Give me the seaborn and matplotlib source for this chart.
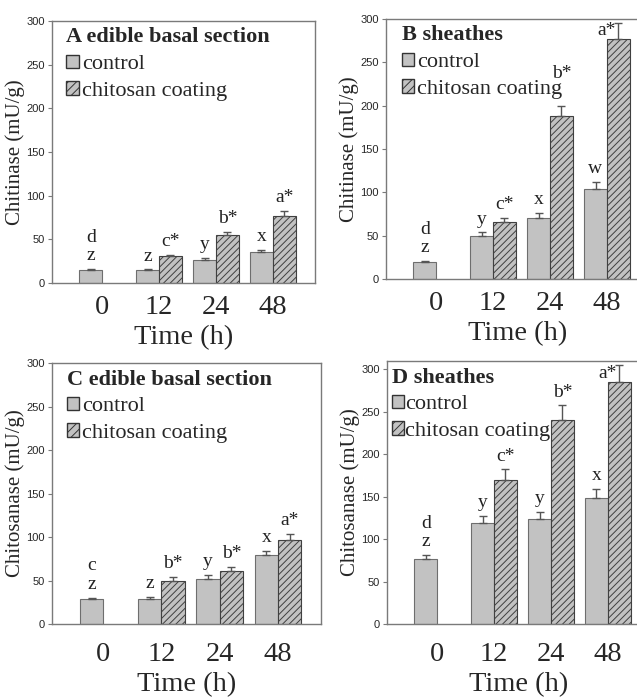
import numpy as np
import pandas as pd
import matplotlib
matplotlib.use('Agg')
import matplotlib.pyplot as plt
import seaborn as sns
from matplotlib.patches import Patch
from matplotlib.container import BarContainer

# --- data ---
times = ['0', '12', '24', '48']
treatments = ['control', 'chitosan coating']

# A: chitinase, edible basal section
a_control = [14.5, 14.5, 26.7, 35.8]
a_control_err = [1.5, 1.0, 1.8, 1.9]
a_chitosan = [30.5, 55.0, 77.0]
a_chitosan_err = [1.5, 3.7, 5.3]
a_control_lab = ['d\nz', 'z', 'y', 'x']
a_chitosan_lab = ['c*', 'b*', 'a*']

# B: chitinase, sheathes
b_control = [19.2, 50.0, 70.7, 104.0]
b_control_err = [1.5, 3.8, 5.3, 7.8]
b_chitosan = [66.0, 187.5, 277.4]
b_chitosan_err = [4.3, 12.3, 18.4]
b_control_lab = ['d\nz', 'y', 'x', 'w']
b_chitosan_lab = ['c*', 'b*', 'a*']

# C: chitosanase, edible basal section
c_control = [28.8, 28.8, 52.2, 79.0]
c_control_err = [1.5, 1.9, 3.8, 5.4]
c_chitosan = [49.9, 61.4, 96.7]
c_chitosan_err = [3.8, 4.6, 6.9]
c_control_lab = ['c\nz', 'z', 'y', 'x']
c_chitosan_lab = ['b*', 'b*', 'a*']

# D: chitosanase, sheathes
d_control = [76.2, 118.6, 124.0, 148.8]
d_control_err = [5.1, 8.6, 8.3, 10.2]
d_chitosan = [169.6, 240.3, 285.0]
d_chitosan_err = [12.6, 17.3, 20.0]
d_control_lab = ['d\nz', 'y', 'y', 'x']
d_chitosan_lab = ['c*', 'b*', 'a*']

sns.set_style('ticks')
plt.rcParams['font.family'] = ['Liberation Serif', 'DejaVu Serif']
plt.rcParams['hatch.linewidth'] = 0.7

bar_grey = '#c2c2c2'
edge_grey = '#6e6e6e'
hatch_dark = '#404040'
spine_grey = '#7a7a7a'
tick_font = ['Liberation Sans Narrow', 'Liberation Sans', 'DejaVu Sans']


def draw_panel(ax, title, ylabel, control, control_err, chitosan, chitosan_err,
               control_lab, chitosan_lab, ymax, leg_x, tick_pad, xlab_pad,
               text_pad=0.15):
    df = pd.DataFrame({
        'time': times + times[1:],
        'treatment': [treatments[0]] * len(control) + [treatments[1]] * len(chitosan),
        'value': control + chitosan,
        'err': control_err + chitosan_err,
        'label': control_lab + chitosan_lab,
    })
    sns.barplot(data=df, x='time', y='value', hue='treatment', order=times,
                hue_order=treatments, palette=[bar_grey, bar_grey], saturation=1,
                errorbar=None, width=0.8, legend=False, ax=ax,
                edgecolor=edge_grey, linewidth=0.8)
    ax.set_ylim(0, ymax)

    notes = []
    bar_groups = [c for c in ax.containers if isinstance(c, BarContainer)]
    for k, container in enumerate(bar_groups):
        sub = df[df['treatment'] == treatments[k]].set_index('time')
        for bar in container:
            h = bar.get_height()
            if not np.isfinite(h) or h == 0:
                continue
            cx = bar.get_x() + bar.get_width() / 2
            t = times[int(round(cx))]
            row = sub.loc[t]
            if k == 1:
                bar.set_hatch('/////')
                bar.set_edgecolor(hatch_dark)
            top = h + row['err']
            ax.errorbar(cx, h, yerr=[[0], [row['err']]], fmt='none',
                        ecolor='#555555', elinewidth=1, capsize=3, capthick=1)
            if top > 0.9 * ymax:
                # no room above: letters sit left of the error bar
                ax.annotate(row['label'], (cx, top), xytext=(-2, -9),
                            textcoords='offset points', ha='right', va='baseline',
                            fontsize=14, color='#222222')
            else:
                notes.append(ax.annotate(row['label'], (cx, top), xytext=(0, 3.5),
                                         textcoords='offset points', ha='center',
                                         va='bottom', fontsize=14, linespacing=1.1,
                                         color='#222222'))

    handles = [Patch(facecolor=bar_grey, edgecolor='#333333', label=treatments[0]),
               Patch(facecolor=bar_grey, edgecolor='#333333', hatch='////',
                     label=treatments[1])]
    leg = ax.legend(handles=handles, title=title, loc='upper left', frameon=False,
                    bbox_to_anchor=(leg_x, 0.975),
                    fontsize=16, title_fontproperties={'weight': 'bold', 'size': 16},
                    alignment='left', handlelength=0.55, handleheight=0.55,
                    handletextpad=text_pad, borderaxespad=0, labelspacing=0.32,
                    borderpad=0)

    ax.set_xlim(-0.88, 3.74)
    ax.set_yticks(np.arange(0, 301, 50))
    ax.tick_params(axis='y', labelsize=8, length=3, color=spine_grey, pad=2)
    for lab in ax.get_yticklabels():
        lab.set_family(tick_font)
    ax.tick_params(axis='x', labelsize=20.5, length=0, pad=tick_pad)
    ax.set_xlabel('Time (h)', fontsize=20.5, labelpad=xlab_pad)
    ax.set_ylabel(ylabel, fontsize=15, labelpad=1)
    for s in ax.spines.values():
        s.set_visible(True)
        s.set_color(spine_grey)
        s.set_linewidth(1)
    return notes, leg


fig = plt.figure(figsize=(6.37, 6.98), dpi=100)
ax_a = fig.add_axes([0.0816, 0.5946, 0.4129, 0.3754])
ax_b = fig.add_axes([0.6060, 0.6003, 0.4129, 0.3725])
ax_c = fig.add_axes([0.0816, 0.1060, 0.4223, 0.3739])
ax_d = fig.add_axes([0.6075, 0.1060, 0.4129, 0.3768])

panels = [
    draw_panel(ax_a, 'A edible basal section', 'Chitinase (mU/g)', a_control, a_control_err,
               a_chitosan, a_chitosan_err, a_control_lab, a_chitosan_lab, 300,
               0.055, 8.5, 3.5),
    draw_panel(ax_b, 'B sheathes', 'Chitinase (mU/g)', b_control, b_control_err,
               b_chitosan, b_chitosan_err, b_control_lab, b_chitosan_lab, 300,
               0.06, 8.5, 3.5),
    draw_panel(ax_c, 'C edible basal section', 'Chitosanase (mU/g)', c_control, c_control_err,
               c_chitosan, c_chitosan_err, c_control_lab, c_chitosan_lab, 300,
               0.055, 13, 3.5),
    draw_panel(ax_d, 'D sheathes', 'Chitosanase (mU/g)', d_control, d_control_err,
               d_chitosan, d_chitosan_err, d_control_lab, d_chitosan_lab, 310,
               0.02, 13, 3.5, text_pad=0.02),
]

# lift any letter that collides with a legend entry above that entry
fig.canvas.draw()
renderer = fig.canvas.get_renderer()
px_to_pt = 72.0 / fig.dpi
for notes, leg in panels:
    for note in notes:
        nb = note.get_window_extent(renderer)
        for txt in leg.get_texts():
            tb = txt.get_window_extent(renderer)
            if nb.overlaps(tb):
                lift = (tb.y1 - nb.y0 - 2) * px_to_pt
                x0, y0 = note.xyann
                note.xyann = (x0, y0 + lift)
                nb = note.get_window_extent(renderer)

fig.savefig('out.png', dpi=100)
